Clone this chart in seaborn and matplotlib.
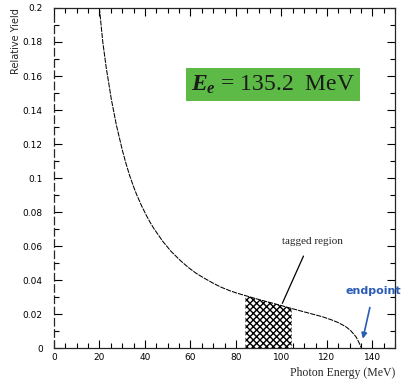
import numpy as np
import matplotlib.pyplot as plt
import seaborn as sns
from matplotlib.ticker import MultipleLocator

# photon spectrum
energy = [20, 21.5, 23, 25.3, 27.5, 30.2, 31.7, 33.3, 35, 36.4, 38.5, 40.8, 42.5, 44,
          47.9, 51.5, 55.5, 59, 62.6, 66.5, 70.2, 73.5, 77.2, 80.5, 83.8, 90, 95, 100,
          104.2, 110, 118.1, 122, 125, 128.4, 130.5, 132.8, 134.2, 135.2]
yield_rel = [0.2, 0.18, 0.165, 0.146, 0.131, 0.1158, 0.1085, 0.1015, 0.095, 0.0902,
             0.0838, 0.0776, 0.0735, 0.0702, 0.0627, 0.0569, 0.0516, 0.0475, 0.0439,
             0.0408, 0.038, 0.0358, 0.0338, 0.0323, 0.031, 0.0286, 0.0268, 0.025, 0.0234,
             0.0213, 0.0184, 0.0166, 0.015, 0.0125, 0.0102, 0.0066, 0.003, 0.0]
tagged_range = [84.2, 104.5]
endpoint = 135.2
x_ticks = [0, 20, 40, 60, 80, 100, 120, 140]
y_ticks = [0, 0.02, 0.04, 0.06, 0.08, 0.1, 0.12, 0.14, 0.16, 0.18, 0.2]
y_ticklabels = ["0", "0.02", "0.04", "0.06", "0.08", "0.1", "0.12", "0.14", "0.16", "0.18", "0.2"]

sns.set_style("ticks")
plt.rcParams["mathtext.fontset"] = "custom"
plt.rcParams["mathtext.it"] = "Liberation Serif:italic:bold"
plt.rcParams["mathtext.rm"] = "Liberation Serif"

fig = plt.figure(figsize=(4.02, 3.80), dpi=100)
ax = fig.add_axes([0.134, 0.084, 0.849, 0.895])

sns.lineplot(x=energy, y=yield_rel, ax=ax, color="black", linewidth=0.75,
             linestyle=(0, (5, 1)), sort=False)

# tagged region, shaded under the curve
e = np.array(energy)
band_x = np.concatenate([[tagged_range[0]], e[(e > tagged_range[0]) & (e < tagged_range[1])],
                         [tagged_range[1]]])
band_y = np.interp(band_x, energy, yield_rel)
plt.rcParams["hatch.linewidth"] = 1.0
ax.fill_between(band_x, 0, band_y, facecolor="white", edgecolor="black",
                hatch="xxxxx", linewidth=0)

ax.set_xlim(0, 150)
ax.set_ylim(0, 0.2)
ax.set_xticks(x_ticks)
ax.set_yticks(y_ticks)
ax.set_yticklabels(y_ticklabels)
ax.xaxis.set_minor_locator(MultipleLocator(5))
ax.yaxis.set_minor_locator(MultipleLocator(0.01))
ax.tick_params(which="both", direction="in", top=True, right=True, labelsize=6.5,
               width=0.8, colors="black")
ax.tick_params(which="major", length=6)
ax.tick_params(which="minor", length=3.5)
ax.tick_params(axis="y", pad=8)
for s in ax.spines.values():
    s.set_linewidth(0.9)
ax.spines["left"].set_linestyle((0, (6, 3)))

ax.set_xlabel("Photon Energy (MeV)", family="Liberation Serif", fontsize=8.5, loc="right")
ax.set_ylabel("Relative Yield", fontsize=7, loc="top", labelpad=1)

ax.text(96.3, 0.155, r"$E_e$ = 135.2  MeV", family="Liberation Serif", fontsize=17,
        ha="center", va="center", color="#1a1a1a",
        bbox=dict(boxstyle="square,pad=0.22", facecolor="#5dba47", edgecolor="none"))

ax.text(113.8, 0.0624, "tagged region", family="Liberation Serif", fontsize=8,
        ha="center", va="center")
ax.plot([109.7, 100.4], [0.0541, 0.0263], color="black", linewidth=0.9)

ax.annotate("endpoint", xy=(endpoint + 0.6, 0.0055), xytext=(140.5, 0.0335),
            ha="center", va="center", fontsize=8, fontweight="bold", color="#2a5cb4",
            arrowprops=dict(arrowstyle="-|>", color="#2a5cb4", lw=1.2,
                            mutation_scale=8, shrinkA=6, shrinkB=0))

fig.savefig("out.png", dpi=100)
